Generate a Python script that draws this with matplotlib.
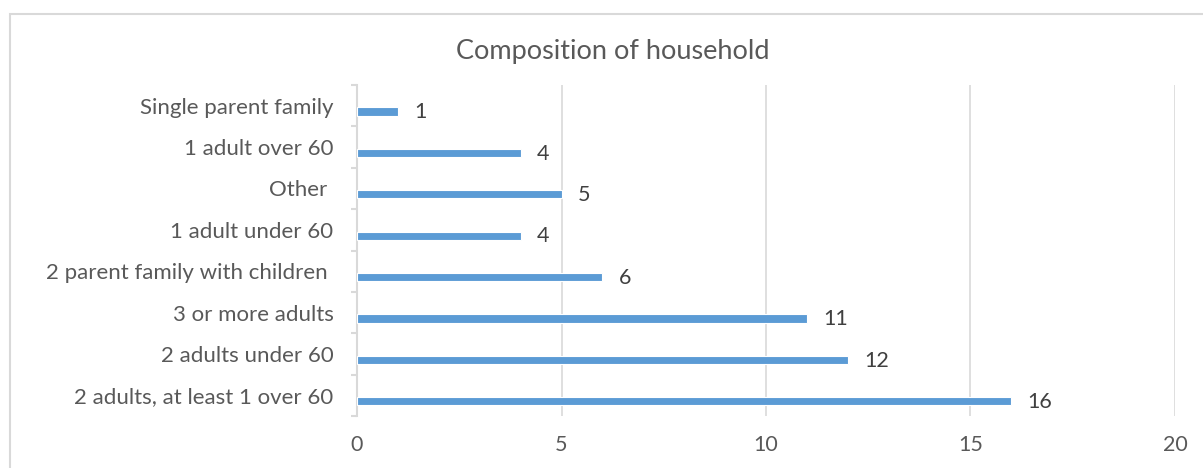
import matplotlib.pyplot as plt
from matplotlib.patches import Rectangle

categories = [
    "2 adults, at least 1 over 60",
    "2 adults under 60",
    "3 or more adults",
    "2 parent family with children ",
    "1 adult under 60",
    "Other ",
    "1 adult over 60",
    "Single parent family",
]
counts = [16, 12, 11, 6, 4, 5, 4, 1]
x_ticks = [0, 5, 10, 15, 20]
title = "Composition of household"

bar_color = "#5B9BD5"
text_color = "#595959"
grid_color = "#D9D9D9"

plt.rcParams["font.family"] = ["Lato", "DejaVu Sans"]

fig = plt.figure(figsize=(12.03, 4.68), dpi=100)
ax = fig.add_axes([0.2968, 0.111, 0.6799, 0.7073])

# chart frame, as in the office export
fig.patches.append(Rectangle((10 / 1203, -0.1), 1.2, 1 - 14 / 468 + 0.1,
                             transform=fig.transFigure, fill=False,
                             edgecolor=grid_color, linewidth=1.5))

pos = [i - 0.14 for i in range(len(categories))]
ax.barh(pos, counts, height=0.2, color=bar_color, edgecolor="white",
        linewidth=0.8, zorder=3)
for p, v in zip(pos, counts):
    ax.text(v + 0.4, p - 0.02, str(v), va="center", ha="left",
            fontsize=15.5, color="#404040")

ax.set_xlim(0, 20)
ax.set_ylim(-0.5, len(categories) - 0.5)
ax.set_xticks(x_ticks)
ax.set_xticklabels([str(t) for t in x_ticks])
ax.set_yticks(range(len(categories)))
ax.set_yticklabels(categories)
ax.set_yticks([i - 0.5 for i in range(len(categories) + 1)], minor=True)

ax.grid(axis="x", color=grid_color, linewidth=1.2, zorder=0)
for s in ["top", "right", "bottom"]:
    ax.spines[s].set_visible(False)
ax.spines["left"].set_color(grid_color)
ax.spines["left"].set_linewidth(1.5)

ax.tick_params(axis="y", which="major", length=0, pad=17, labelsize=16,
               labelcolor=text_color)
ax.tick_params(axis="y", which="minor", length=4.5, width=1.5,
               color=grid_color)
ax.tick_params(axis="x", length=0, pad=14, labelsize=15.5,
               labelcolor=text_color)

fig.text(0.509, 1 - 52 / 468, title, ha="center", va="center",
         fontsize=19.5, color=text_color)

fig.savefig("out.png", dpi=100)
